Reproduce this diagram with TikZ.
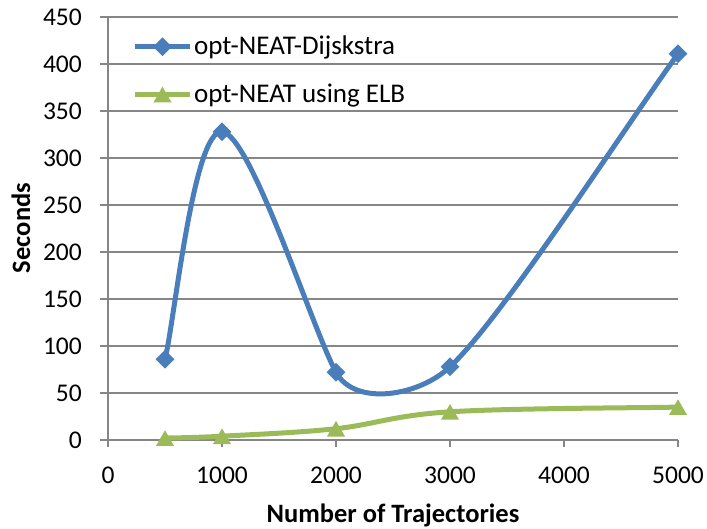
\documentclass[tikz,border=0pt]{standalone}
\usepackage{fontspec}
\setmainfont{Carlito}
\usetikzlibrary{shapes.geometric}
\definecolor{serblue}{RGB}{74,126,187}
\definecolor{sergreen}{RGB}{155,187,89}
\definecolor{gridgray}{RGB}{134,134,134}
\tikzset{
  gridline/.style={draw=gridgray, line width=1.3pt},
  ticklab/.style={font=\fontsize{25.5}{30}\selectfont, inner sep=0pt},
  leglab/.style={font=\fontsize{27}{32}\selectfont, inner sep=0pt},
  axtitle/.style={font=\fontsize{26.5}{31}\selectfont\bfseries, inner sep=0pt},
  bluecurve/.style={draw=serblue, line width=5pt},
  greencurve/.style={draw=sergreen, line width=5pt},
  bmark/.style={diamond, fill=serblue, minimum width=19pt, minimum height=19pt, inner sep=0pt},
  gmark/.style={regular polygon, regular polygon sides=3, fill=sergreen, minimum size=20.8pt, inner sep=0pt, yshift=-2.6pt},
}
\begin{document}
\begin{tikzpicture}[x=1pt,y=-1pt]
\useasboundingbox (0,0) rectangle (707,529);
% gridlines and y tick labels
\foreach \v/\yy in {50/393,100/346,150/299,200/252,250/205,300/158,350/111,400/64,450/17}{
  \draw[gridline] (100,\yy) -- (678,\yy);
}
\foreach \v/\yy [count=\i] in {0/440,50/393,100/346,150/299,200/252,250/205,300/158,350/111,400/64,450/17}{
  \node[ticklab, anchor=base east] (ylab\i) at (82,\yy+8.5) {\v};
}
% axes
\draw[gridline] (100,440) -- (678,440);
\draw[gridline] (108,17) -- (108,447);
\foreach \xx in {222,336,450,564,678}{
  \draw[gridline] (\xx,440) -- (\xx,447);
}
\foreach \v/\xx [count=\i] in {0/108,1000/222,2000/336,3000/450,4000/564,5000/678}{
  \node[ticklab, anchor=base] (xlab\i) at (\xx,483) {\v};
}
% axis titles
\node[axtitle, anchor=base] (xtitle) at (393,522.5) {Number of Trajectories};
\node[axtitle, rotate=90] (ytitle) at (21,228) {Seconds};
% data coordinates
\coordinate (b1) at (165,359.2);
\coordinate (b2) at (222,131.7);
\coordinate (b3) at (336,372.3);
\coordinate (b4) at (450,366.7);
\coordinate (b5) at (678,53.7);
\coordinate (g1) at (165,438.1);
\coordinate (g2) at (222,436.2);
\coordinate (g3) at (336,428.7);
\coordinate (g4) at (450,411.8);
\coordinate (g5) at (678,407.1);
% green series
\draw[greencurve] (g1) .. controls (174.5,437.8) and (193.5,437.8) .. (g2)
  .. controls (250.5,434.6) and (298,432.8) .. (g3)
  .. controls (374,424.6) and (393,415.4) .. (g4)
  .. controls (507,408.2) and (640,407.9) .. (g5);
% blue series
\draw[bluecurve] (b1) .. controls (174.5,321.3) and (193.5,129.5) .. (b2)
  .. controls (250.5,133.9) and (312,328) .. (b3)
  .. controls (355,407) and (419.7,396) .. (b4)
  .. controls (500,320.5) and (618,137.7) .. (b5);
\foreach \p in {b1,b2,b3,b4,b5}{ \node[bmark] (m\p) at (\p) {}; }
\foreach \p in {g1,g2,g3,g4,g5}{ \node[gmark] (m\p) at (\p) {}; }
% legend
\coordinate (lb1) at (135,46.7);
\coordinate (lb2) at (190,46.7);
\coordinate (lg1) at (135,94.5);
\coordinate (lg2) at (190,94.5);
\draw[bluecurve] (lb1) -- (lb2);
\node[bmark] (lbm) at (162.5,46.7) {};
\draw[greencurve] (lg1) -- (lg2);
\node[gmark] (lgm) at (162.5,94.5) {};
\node[leglab, anchor=base west] (leg1) at (194,55) {opt-NEAT-Dijskstra};
\node[leglab, anchor=base west] (leg2) at (194,103) {opt-NEAT using ELB};
\end{tikzpicture}
\end{document}
